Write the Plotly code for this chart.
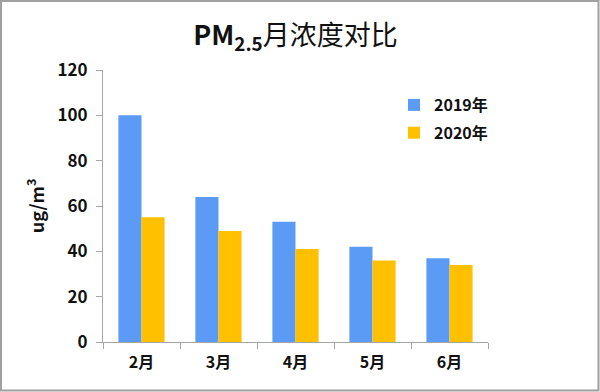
import plotly.graph_objects as go

months = ["2月", "3月", "4月", "5月", "6月"]
pm2019 = [100, 64, 53, 42, 37]
pm2020 = [55, 49, 41, 36, 34]
series_names = ["2019年", "2020年"]
y_ticks = [0, 20, 40, 60, 80, 100, 120]

W, H = 600, 392
L, R, T, B = 103, 112, 70, 50
pw, ph = W - L - R, H - T - B

font_fam = "Noto Sans CJK SC, Open Sans, sans-serif"

fig = go.Figure()
fig.add_trace(go.Bar(x=months, y=pm2019, name=series_names[0], marker_color="#5B9BF6",
                     marker_line_width=0, legendgroup="a"))
fig.add_trace(go.Bar(x=months, y=pm2020, name=series_names[1], marker_color="#FFC000",
                     marker_line_width=0, legendgroup="b"))

fig.update_layout(
    width=W, height=H,
    margin=dict(l=L, r=R, t=T, b=B),
    paper_bgcolor="white", plot_bgcolor="white",
    barmode="group", bargap=0.4, bargroupgap=0,
    font=dict(family=font_fam, color="#111111"),
    title=dict(text="<b>PM<sub>2.5</sub></b>月浓度对比", x=0.5, xref="paper", xanchor="center",
               y=1 - 36 / H, yanchor="middle", font=dict(size=27, color="#111111")),
    showlegend=True,
    legend=dict(x=(394 - L) / pw, y=1 - (88 - T) / ph, xanchor="left", yanchor="top",
                font=dict(size=16, color="#111111", weight="bold"), bgcolor="rgba(0,0,0,0)",
                traceorder="grouped", tracegroupgap=4, itemwidth=30),
    xaxis=dict(showline=True, linecolor="#A6A6A6", linewidth=1, ticks="outside", ticklen=6,
               tickcolor="#A6A6A6", tickson="boundaries", showgrid=False,
               tickfont=dict(size=16, color="#111111", weight="bold"), ticklabelstandoff=6),
    yaxis=dict(range=[0, 120], tickvals=y_ticks, showline=True, linecolor="#A6A6A6", linewidth=1,
               ticks="outside", ticklen=6, tickcolor="#A6A6A6", showgrid=False, zeroline=False,
               tickfont=dict(size=17, color="#111111", weight="bold"), ticklabelstandoff=5,
               title=dict(text="ug/m<sup>3</sup>", font=dict(size=18, color="#111111", weight="bold"), standoff=8)),
)
fig.add_shape(type="rect", xref="paper", yref="paper",
              x0=(1 - L) / pw, x1=(W - 1.5 - L) / pw, y0=1 + (T - 1) / ph, y1=-(B - 1.5) / ph,
              line=dict(color="#A0A0A0", width=2), fillcolor="rgba(0,0,0,0)", layer="below")

fig.write_html("out.html", config={"displayModeBar": False},
               post_script="document.body.style.margin='0';")
